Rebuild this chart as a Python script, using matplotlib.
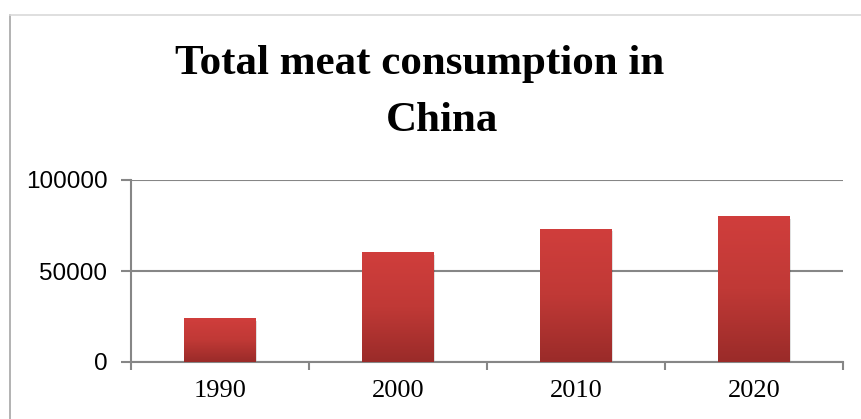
import numpy as np
import matplotlib.pyplot as plt
from matplotlib.colors import LinearSegmentedColormap
from matplotlib.lines import Line2D

years = ["1990", "2000", "2010", "2020"]
consumption = [24000, 60000, 73000, 80000]
yticks = [0, 50000, 100000]

fig = plt.figure(figsize=(8.61, 4.19), dpi=100)
ax = fig.add_axes([131 / 861, 1 - 362 / 419, 712 / 861, 182 / 419])

x = np.arange(len(years))
bars = ax.bar(x, consumption, width=0.4, color="none", zorder=3)

# gradient fill for each bar (lighter on top, darker at bottom)
cmap = LinearSegmentedColormap.from_list("red_grad", ["#9a2b29", "#c03936", "#d03e3c"])
grad = np.linspace(0, 1, 256).reshape(-1, 1)
for b in bars:
    x0, w, h = b.get_x(), b.get_width(), b.get_height()
    # soft shadow
    ax.add_patch(plt.Rectangle((x0 + 0.01, -1200), w, h, color="#000000",
                               alpha=0.12, lw=0, zorder=2))
    ax.imshow(grad, cmap=cmap, origin="lower", aspect="auto",
              extent=(x0, x0 + w, 0, h), zorder=3)

ax.set_xlim(-0.5, len(years) - 0.5)
ax.set_ylim(0, 100000)

ax.set_yticks(yticks)
ax.set_yticklabels([str(v) for v in yticks], family="Liberation Sans", fontsize=17.5)
ax.set_xticks(x)
ax.set_xticklabels(years, family="Liberation Serif", fontsize=19)
ax.set_xticks(np.arange(len(years) + 1) - 0.5, minor=True)

ax.grid(axis="y", color="#868686", lw=1.5, zorder=1)
ax.tick_params(axis="y", length=7, width=1.5, color="#868686", pad=10)
ax.tick_params(axis="x", which="major", length=0, pad=13)
ax.tick_params(axis="x", which="minor", length=6, width=1.5, color="#868686")

for s in ["top", "right"]:
    ax.spines[s].set_visible(False)
for s in ["left", "bottom"]:
    ax.spines[s].set_color("#868686")
    ax.spines[s].set_linewidth(1.5)

# chart area border
fig.add_artist(Line2D([9.5 / 861, 9.5 / 861], [0, 1 - 15 / 419],
                      transform=fig.transFigure, color="#a6a6a6", lw=1.2))
fig.add_artist(Line2D([9.5 / 861, 1], [1 - 15 / 419, 1 - 15 / 419],
                      transform=fig.transFigure, color="#d9d9d9", lw=1.2))

fig.text(420 / 861, 1 - 64 / 419, "Total meat consumption in",
         family="Liberation Serif", weight="bold", fontsize=31,
         ha="center", va="center")
fig.text(442 / 861, 1 - 121 / 419, "China",
         family="Liberation Serif", weight="bold", fontsize=31,
         ha="center", va="center")

fig.savefig("out.png", dpi=100)
